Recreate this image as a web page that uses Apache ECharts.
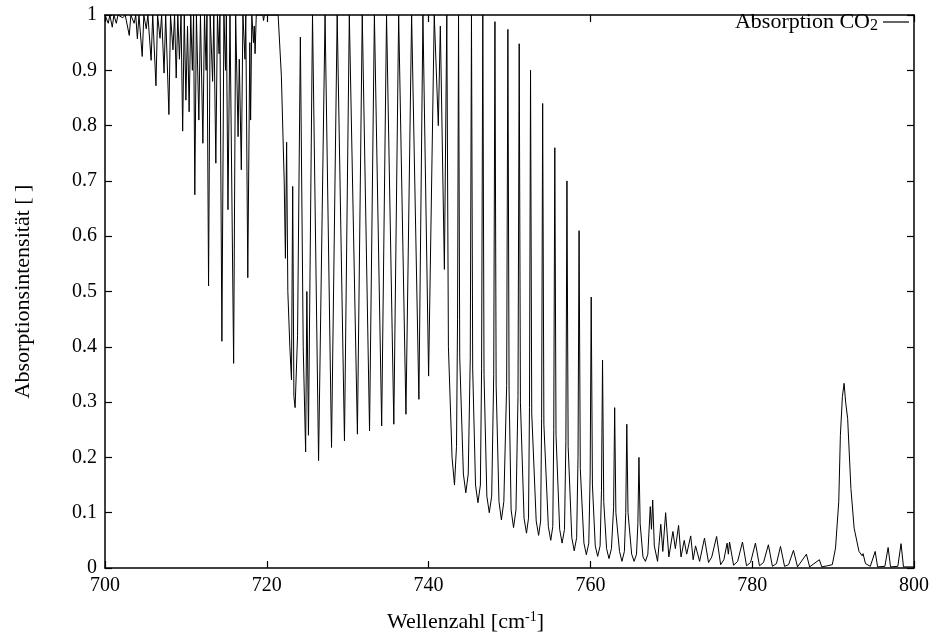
<!DOCTYPE html>
<html>
<head>
<meta charset="utf-8">
<script src="https://cdn.jsdelivr.net/npm/echarts@6/dist/echarts.min.js"></script>
<style>
  html, body { margin: 0; padding: 0; background: #fff; }
  #chart { width: 933px; height: 638px; }
</style>
</head>
<body>
<div id="chart"></div>
<script>
// Wellenzahl [cm-1] / Absorptionsintensität
var band700 = [
  [700.0, 1], [700.4, 0.985], [700.6, 1], [700.9, 0.978], [701.1, 1], [701.4, 0.985], [701.6, 1],
  [702.2, 0.995], [702.5, 1], [703.0, 0.963], [703.2, 1], [703.6, 0.985], [703.8, 1], [704.0, 0.957],
  [704.2, 1], [704.6, 0.925], [704.8, 1], [705.1, 0.975], [705.3, 1], [705.7, 0.918], [705.9, 1],
  [706.3, 0.872], [706.5, 1], [706.8, 0.958], [707.0, 1], [707.3, 0.895], [707.5, 1], [707.9, 0.82],
  [708.1, 1], [708.4, 0.937], [708.6, 1], [708.8, 0.886], [709.0, 1], [709.2, 0.92], [709.4, 1],
  [709.6, 0.79], [709.8, 1], [710.0, 0.846], [710.2, 0.98], [710.4, 0.825], [710.6, 1], [710.8, 0.9],
  [710.95, 1], [711.1, 0.675], [711.3, 1], [711.6, 0.81], [711.8, 1], [712.1, 0.768], [712.3, 1],
  [712.5, 0.9], [712.6, 1], [712.8, 0.51], [713.0, 1], [713.3, 0.88], [713.45, 1], [713.7, 0.732],
  [713.9, 1], [714.1, 0.93], [714.2, 1], [714.45, 0.41], [714.7, 1], [714.9, 0.9], [715.0, 1],
  [715.2, 0.648], [715.45, 1], [715.9, 0.37], [716.15, 1], [716.45, 0.78], [716.6, 0.92], [716.85, 0.72],
  [717.05, 1], [717.3, 0.92], [717.4, 1], [717.65, 0.525], [717.9, 0.95], [718.0, 0.81], [718.15, 1],
  [718.35, 0.95], [718.45, 0.98], [718.55, 0.93], [718.7, 1], [719.5, 1], [719.6, 0.99], [719.7, 1],
  [721.4, 1]
];
var band722 = [
  [721.8, 0.89], [722.15, 0.70], [722.3, 0.56], [722.45, 0.77], [722.6, 0.50], [722.85, 0.40],
  [723.05, 0.34], [723.2, 0.69], [723.35, 0.31], [723.5, 0.29], [723.8, 0.42], [724.15, 0.96],
  [724.5, 0.40], [724.8, 0.21], [724.95, 0.50], [725.15, 0.24], [725.65, 1], [726.4, 0.194],
  [727.2, 1], [728.0, 0.218], [728.7, 1], [729.6, 0.23], [730.2, 1], [731.2, 0.242], [731.8, 1],
  [732.7, 0.248], [733.3, 1], [734.2, 0.257], [734.8, 1], [735.7, 0.26], [736.3, 1], [737.2, 0.278],
  [737.9, 1], [738.8, 0.305], [739.3, 1], [740.0, 0.347], [740.7, 1], [741.2, 0.80], [741.45, 0.98],
  [741.95, 0.54], [742.25, 1]
];
var band743 = [
  [742.45, 0.40], [742.9, 0.20], [743.2, 0.15], [743.45, 0.22], [743.58, 0.45], [743.7, 1],
  [743.85, 0.38], [744.3, 0.17], [744.6, 0.136], [744.9, 0.17], [745.15, 0.38], [745.3, 1],
  [745.45, 0.36], [745.8, 0.15], [746.1, 0.118], [746.4, 0.15], [746.55, 0.36], [746.7, 1],
  [746.85, 0.35], [747.2, 0.13], [747.5, 0.10], [747.8, 0.13], [748.05, 0.35], [748.2, 0.988],
  [748.35, 0.33], [748.7, 0.12], [749.0, 0.087], [749.3, 0.12], [749.65, 0.33], [749.8, 0.974],
  [749.95, 0.32], [750.2, 0.105], [750.5, 0.073], [750.8, 0.105], [751.05, 0.31], [751.2, 0.948],
  [751.35, 0.30], [751.8, 0.09], [752.1, 0.063], [752.35, 0.09], [752.47, 0.29], [752.6, 0.90],
  [752.75, 0.28], [753.3, 0.085], [753.6, 0.059], [753.85, 0.085], [753.97, 0.27], [754.1, 0.84],
  [754.25, 0.26], [754.8, 0.075], [755.1, 0.05], [755.35, 0.075], [755.47, 0.25], [755.6, 0.76],
  [755.75, 0.24], [756.2, 0.07], [756.5, 0.045], [756.8, 0.07], [756.97, 0.23], [757.1, 0.70],
  [757.25, 0.22], [757.7, 0.055], [758.0, 0.031], [758.3, 0.055], [758.47, 0.20], [758.6, 0.61],
  [758.75, 0.18], [759.2, 0.045], [759.5, 0.024], [759.8, 0.045], [759.97, 0.17], [760.1, 0.49],
  [760.25, 0.15], [760.6, 0.04], [760.9, 0.021], [761.2, 0.04], [761.37, 0.14], [761.5, 0.376],
  [761.65, 0.12], [762.0, 0.035], [762.3, 0.017], [762.6, 0.035], [762.87, 0.11], [763.0, 0.29],
  [763.15, 0.10], [763.6, 0.03], [763.9, 0.012], [764.2, 0.03], [764.37, 0.10], [764.5, 0.26],
  [764.65, 0.10], [765.1, 0.025], [765.4, 0.012], [765.7, 0.025], [765.87, 0.08], [766.0, 0.20],
  [766.15, 0.08], [766.5, 0.02], [766.8, 0.012], [767.1, 0.025], [767.4, 0.111], [767.55, 0.07],
  [767.7, 0.123], [767.9, 0.04], [768.3, 0.012]
];
var band770 = [
  [768.7, 0.079], [768.95, 0.03], [769.3, 0.10], [769.7, 0.02], [770.2, 0.066], [770.5, 0.035],
  [770.9, 0.077], [771.2, 0.02], [771.6, 0.05], [771.9, 0.025], [772.4, 0.058], [772.7, 0.015],
  [773.0, 0.04], [773.5, 0.012], [774.1, 0.054], [774.6, 0.01], [775.0, 0.02], [775.6, 0.057],
  [776.1, 0.006], [776.5, 0.015], [776.9, 0.045], [777.05, 0.025], [777.2, 0.047], [777.7, 0.005],
  [778.2, 0.012], [778.8, 0.047], [779.3, 0.004], [779.8, 0.01], [780.4, 0.045], [780.9, 0.004],
  [781.4, 0.01], [782.0, 0.042], [782.5, 0.003], [783.0, 0.008], [783.5, 0.039], [784.0, 0.003],
  [784.5, 0.006], [785.1, 0.032], [785.6, 0.002], [786.7, 0.025], [787.1, 0.002], [788.3, 0.015],
  [788.6, 0.002], [789.3, 0.004], [789.9, 0.006], [790.3, 0.036], [790.7, 0.12], [790.9, 0.24],
  [791.15, 0.31], [791.36, 0.334], [791.55, 0.30], [791.8, 0.27], [792.2, 0.144], [792.6, 0.072],
  [793.2, 0.03], [793.6, 0.022], [793.7, 0.026], [794.0, 0.008], [794.6, 0.003], [795.2, 0.03],
  [795.5, 0.002], [796.4, 0.003], [796.8, 0.037], [797.1, 0.002], [798.0, 0.003], [798.4, 0.044],
  [798.7, 0.002], [800.0, 0.002]
];

var xTicks = [700, 720, 740, 760, 780, 800];
var yTicks = [0, 0.1, 0.2, 0.3, 0.4, 0.5, 0.6, 0.7, 0.8, 0.9, 1];

var spectrum = band700.concat(band722, band743, band770);

var serif = "'Liberation Serif', 'Times New Roman', serif";
var myChart = echarts.init(document.getElementById('chart'));

function axisBase(pos) {
  return {
    position: pos,
    axisLine: { show: true, onZero: false, lineStyle: { color: '#000', width: 1.5 } },
    axisTick: { show: true, inside: true, length: 7, lineStyle: { color: '#000', width: 1.2 } },
    splitLine: { show: false },
    axisLabel: { color: '#000', fontFamily: serif, fontSize: 20 }
  };
}

var xBottom = axisBase('bottom');
xBottom.type = 'value';
xBottom.min = xTicks[0];
xBottom.max = xTicks[xTicks.length - 1];
xBottom.interval = xTicks[1] - xTicks[0];
xBottom.axisLabel.margin = 8;
xBottom.name = 'Wellenzahl [cm{sup|-1}]';
xBottom.nameLocation = 'middle';
xBottom.nameGap = 42;
// gnuplot centres the label on the page, not on the plot box
xBottom.nameTextStyle = {
  color: '#000', fontFamily: serif, fontSize: 22, padding: [0, 88, 0, 0],
  rich: { sup: { fontSize: 14, fontFamily: serif, color: '#000', padding: [0, 0, 10, 0] } }
};

var xTop = axisBase('top');
xTop.type = 'value';
xTop.min = xBottom.min;
xTop.max = xBottom.max;
xTop.interval = xBottom.interval;
xTop.axisLabel.show = false;

var yLeft = axisBase('left');
yLeft.type = 'value';
yLeft.min = yTicks[0];
yLeft.max = yTicks[yTicks.length - 1];
yLeft.interval = 0.1;
yLeft.axisLabel.margin = 8;
yLeft.axisLabel.formatter = function (v) { return String(+v.toFixed(1)); };
yLeft.name = 'Absorptionsintensität [ ]';
yLeft.nameLocation = 'middle';
yLeft.nameGap = 71;
yLeft.nameTextStyle = { color: '#000', fontFamily: serif, fontSize: 22 };

var yRight = axisBase('right');
yRight.type = 'value';
yRight.min = yLeft.min;
yRight.max = yLeft.max;
yRight.interval = 0.1;
yRight.axisLabel.show = false;

var option = {
  animation: false,
  backgroundColor: '#fff',
  grid: { left: 105, right: 19, top: 15, bottom: 69 },
  legend: {
    data: [{ name: 'Absorption CO2', icon: 'rect' }],
    formatter: function () { return 'Absorption CO{sub|2}'; },
    align: 'right',
    right: 24,
    top: 11,
    padding: 0,
    itemWidth: 26,
    itemHeight: 1.2,
    textStyle: {
      color: '#000', fontFamily: serif, fontSize: 22,
      rich: { sub: { fontSize: 16, fontFamily: serif, color: '#000', padding: [8, 0, 0, 0] } }
    }
  },
  xAxis: [xBottom, xTop],
  yAxis: [yLeft, yRight],
  series: [{
    name: 'Absorption CO2',
    type: 'line',
    xAxisIndex: 0,
    yAxisIndex: 0,
    data: spectrum,
    showSymbol: false,
    color: '#000',
    lineStyle: { color: '#000', width: 1 }
  }]
};

myChart.setOption(option);
</script>
</body>
</html>
